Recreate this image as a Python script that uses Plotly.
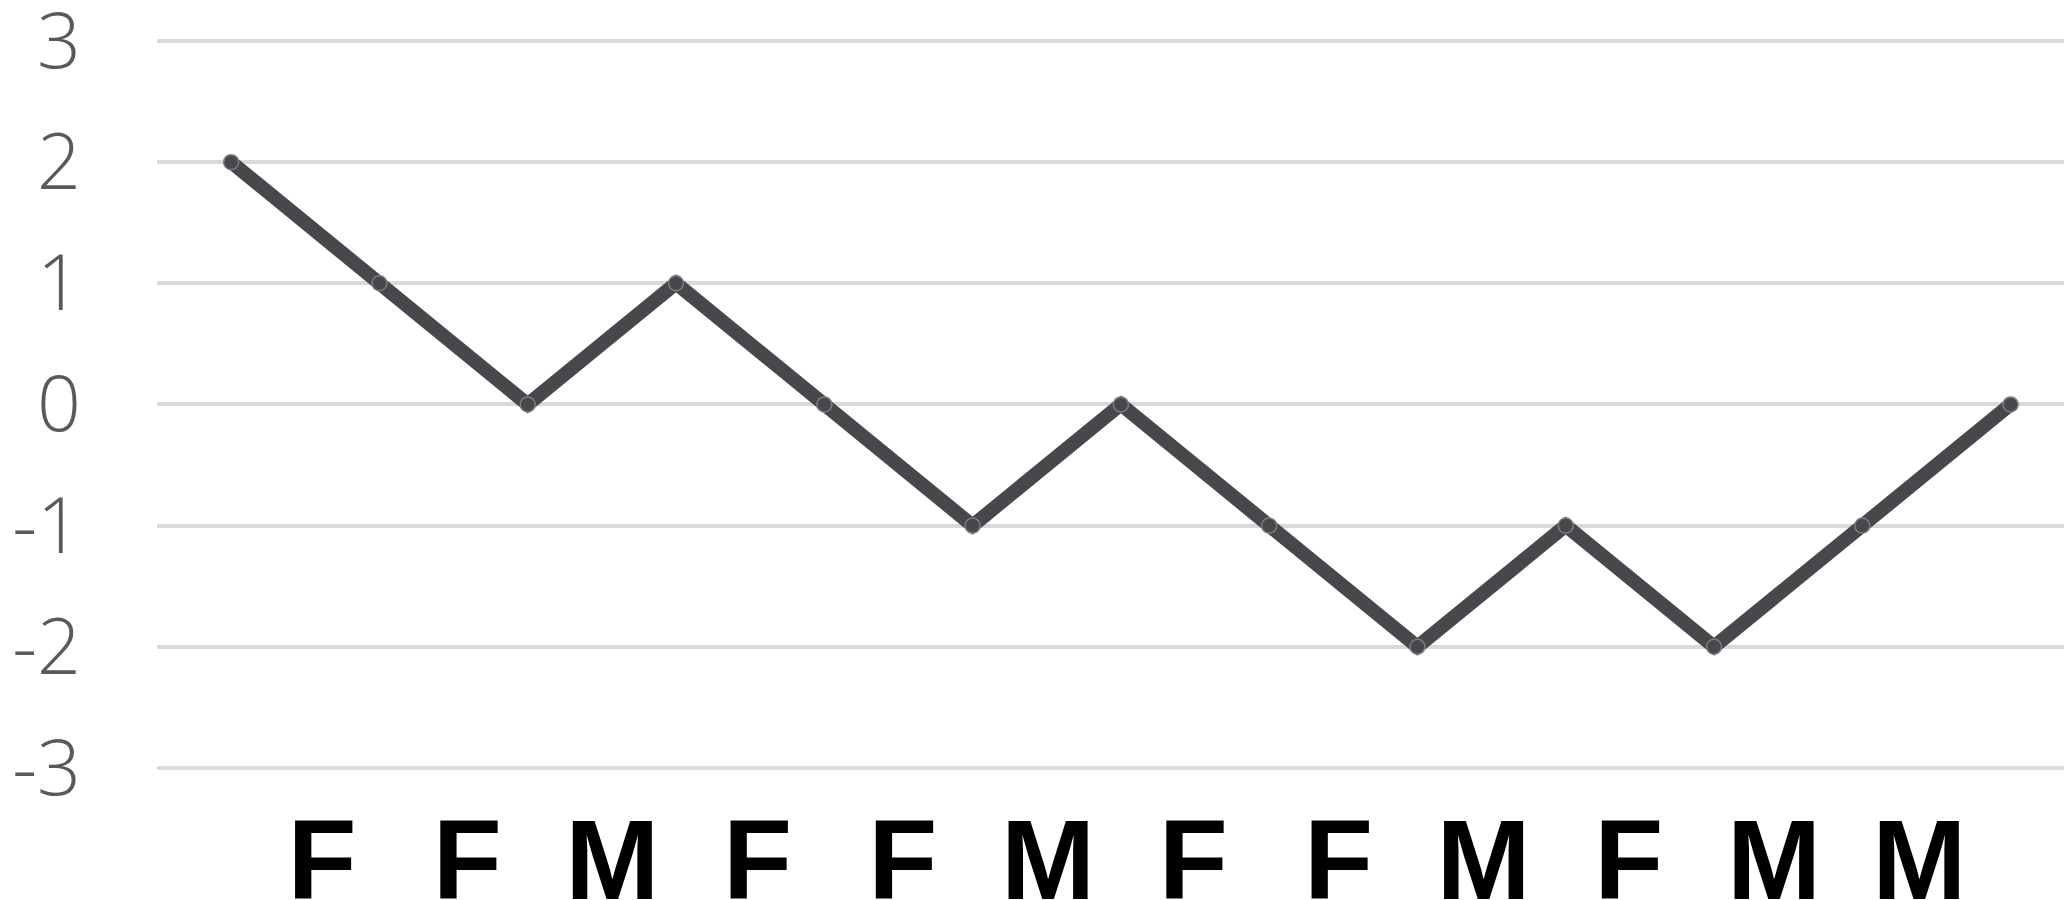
import plotly.graph_objects as go

# Data
point_index = list(range(13))
values = [2, 1, 0, 1, 0, -1, 0, -1, -2, -1, -2, -1, 0]
label_index = list(range(12))
labels = ["F", "F", "M", "F", "F", "M", "F", "F", "M", "F", "M", "M"]
y_ticks = [3, 2, 1, 0, -1, -2, -3]
y_ticktext = ["3", "2", "1", "0", "-1", "-2", "-3"]

fig = go.Figure()
fig.add_trace(go.Scatter(
    x=point_index, y=values, mode="lines+markers",
    line=dict(color="#48484c", width=14),
    marker=dict(size=15, color="#48484c", line=dict(color="#7c7c82", width=1.5)),
    showlegend=False, hoverinfo="skip",
))
# invisible trace to anchor the label axis
fig.add_trace(go.Scatter(
    x=label_index, y=[0] * len(label_index), xaxis="x2", mode="markers",
    marker=dict(opacity=0), showlegend=False, hoverinfo="skip",
))

fig.update_layout(
    width=2072, height=900,
    margin=dict(l=149, r=0, t=12, b=130, autoexpand=False),
    paper_bgcolor="white", plot_bgcolor="white",
    xaxis=dict(range=[-0.5, 12.468], showgrid=False, zeroline=False,
               showticklabels=False, showline=False, ticks=""),
    xaxis2=dict(range=[-1.136, 12.107], overlaying="x", side="bottom",
                showgrid=False, zeroline=False, showline=False, ticks="",
                tickmode="array", tickvals=label_index, ticktext=labels,
                tickfont=dict(family="Liberation Sans", size=113, color="#000000", weight=700),
                ticklabelstandoff=7, ticklabeloverflow="allow", automargin=False),
    yaxis=dict(range=[-3.083, 3.173], tickmode="array", tickvals=y_ticks,
               ticktext=y_ticktext, showgrid=True, gridcolor="#d9d9d9", gridwidth=4,
               zeroline=False, showline=False, ticks="",
               tickfont=dict(family="Open Sans", size=77, color="#595959", weight=300),
               ticklabelstandoff=75, ticklabeloverflow="allow", automargin=False),
)

fig.write_html("out.html")
